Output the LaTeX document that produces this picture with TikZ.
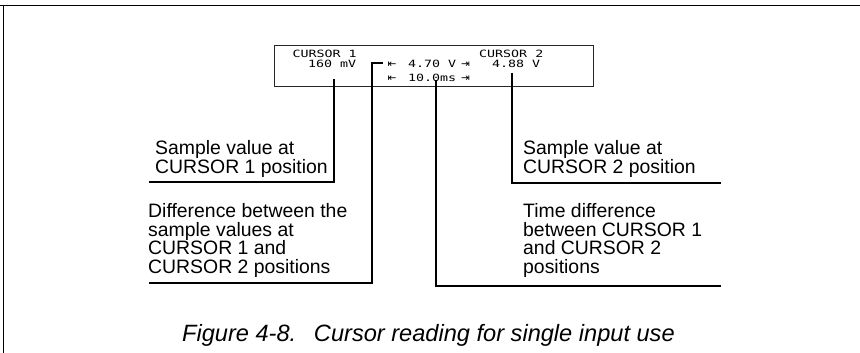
\documentclass[tikz,border=0pt]{standalone}
\usepackage{fontspec}
\usepackage{graphicx}
\setmainfont{Liberation Sans}
\newfontfamily\lcdfont{DejaVu Sans Mono}
\newfontfamily\arrowfont{DejaVu Sans}
\newcommand{\lcdstr}[1]{\scalebox{1.33}[1]{#1}}
\begin{document}
\begin{tikzpicture}[x=1pt,y=-1pt,
  lcdtext/.style={inner sep=0pt, anchor=base west, font=\lcdfont\fontsize{10}{12}\selectfont},
  lcdarrow/.style={inner sep=0pt, anchor=base west, font=\arrowfont\fontsize{10.5}{12}\selectfont},
  calltext/.style={inner sep=0pt, anchor=base west, align=left, font=\fontsize{19.4}{18.6}\selectfont},
  leader/.style={line width=2pt},
  frameline/.style={line width=1.8pt}]
\useasboundingbox (0,0) rectangle (860,353);
% outer frame
\draw[frameline] (0,5.6) -- (860,5.6);
\draw[line width=1pt] (3.3,4.7) -- (3.3,353);
% LCD box
\node (lcd) [draw=black!85, line width=0.9pt, minimum width=319pt, minimum height=41pt, anchor=north west, inner sep=0pt] at (274,45) {};
\node (c1) [lcdtext] at (292.5,57.3) {\lcdstr{CURSOR 1}};
\node (c2) [lcdtext] at (479,57.3) {\lcdstr{CURSOR 2}};
\node (v1) [lcdtext] at (308,67.3) {\lcdstr{160 mV}};
\node (v2) [lcdtext] at (492,67.3) {\lcdstr{4.88 V}};
\node (dv) [lcdtext] at (408,67.3) {\lcdstr{4.70 V}};
\node (dt) [lcdtext] at (408,81.7) {\lcdstr{10.0ms}};
\node (a1) [lcdarrow] at (387.5,67.3) {⇤};
\node (a2) [lcdarrow] at (461,67.3) {⇥};
\node (a3) [lcdarrow] at (387.5,81.7) {⇤};
\node (a4) [lcdarrow] at (461,81.7) {⇥};
% leader start points
\coordinate (p1) at (333.5,79.5);
\coordinate (p2) at (383,63);
\coordinate (p3) at (436,80);
\coordinate (p4) at (511.5,73);
% callout texts (base anchor = last line baseline)
\node (t1) [calltext] at (155,173.3) {Sample value at\\CURSOR 1 position};
\node (t2) [calltext] at (148,273.5) {Difference between the\\sample values at\\CURSOR 1 and\\CURSOR 2 positions};
\node (t3) [calltext] at (523,173.3) {Sample value at\\CURSOR 2 position};
\node (t4) [calltext] at (523,273.5) {Time difference\\between CURSOR 1\\and CURSOR 2\\positions};
% leader ends
\coordinate (e1) at (149,182);
\coordinate (e2) at (149,283);
\coordinate (e3) at (721,286);
\coordinate (e4) at (721,183);
\draw[leader] (p1) |- (e1);
\draw[leader] (p2) -| (371.7,283) -- (e2);
\draw[leader] (p3) |- (e3);
\draw[leader] (p4) |- (e4);
% caption
\node (cap) [inner sep=0pt, anchor=base west, font=\itshape\fontsize{23.6}{26}\selectfont] at (182,341) {Figure 4-8.\hspace{0.75em}Cursor reading for single input use};
\end{tikzpicture}
\end{document}
